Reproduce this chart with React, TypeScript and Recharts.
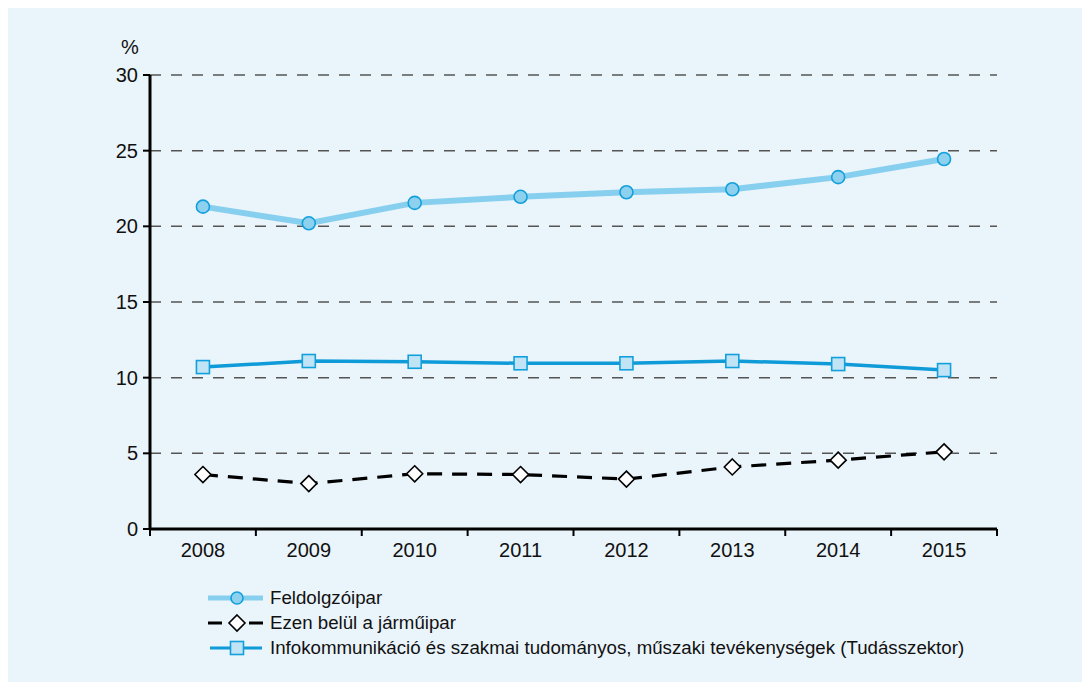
import { LineChart, Line, XAxis, YAxis, CartesianGrid } from 'recharts';

// years on the category axis
const years = [2008, 2009, 2010, 2011, 2012, 2013, 2014, 2015];

// share of employment, %
const feldolgozoipar = [21.3, 20.2, 21.55, 21.95, 22.25, 22.45, 23.25, 24.45];
const jarmuipar = [3.6, 3.0, 3.65, 3.6, 3.3, 4.1, 4.55, 5.1];
const tudasszektor = [10.7, 11.1, 11.05, 10.95, 10.95, 11.1, 10.9, 10.5];

const yTicks = [0, 5, 10, 15, 20, 25, 30];
const gridValues = [5, 10, 15, 20, 25, 30];
const boundaryTicks = [2007.5, 2008.5, 2009.5, 2010.5, 2011.5, 2012.5, 2013.5, 2014.5, 2015.5];

const seriesNames = [
  'Feldolgzóipar',
  'Ezen belül a járműipar',
  'Infokommunikáció és szakmai tudományos, műszaki tevékenységek (Tudásszektor)',
];

const data = years.map((year, i) => ({
  year,
  feldolgozoipar: feldolgozoipar[i],
  jarmuipar: jarmuipar[i],
  tudasszektor: tudasszektor[i],
}));

const BG = '#eaf4fb';
const FONT = '"Liberation Sans", Arial, sans-serif';
const CHART_W = 1082;
const CHART_H = 674;
const MARGIN = { top: 67, right: 93, left: 0, bottom: 123 };
const Y_AXIS_W = 142;
const PLOT_W = CHART_W - MARGIN.left - MARGIN.right - Y_AXIS_W;
const HALF_STEP = PLOT_W / years.length / 2;

const LIGHT = '#87cfee';
const BLUE = '#0f9ad8';
const EDGE = '#12a0dc';

const CircleDot = (props: any) => {
  const { cx, cy, index } = props;
  if (cx == null || cy == null) return null;
  return <circle key={`c-${index}`} cx={cx} cy={cy} r={6.5} fill="#8dd1ef" stroke={EDGE} strokeWidth={1.6} />;
};

const SquareDot = (props: any) => {
  const { cx, cy, index } = props;
  if (cx == null || cy == null) return null;
  return <rect key={`s-${index}`} x={cx - 6.5} y={cy - 6.5} width={13} height={13} fill="#c0e4f6" stroke={EDGE} strokeWidth={1.6} />;
};

const DiamondDot = (props: any) => {
  const { cx, cy, index } = props;
  if (cx == null || cy == null) return null;
  return (
    <polygon
      key={`d-${index}`}
      points={`${cx},${cy - 8} ${cx + 8},${cy} ${cx},${cy + 8} ${cx - 8},${cy}`}
      fill="#ffffff"
      stroke="#000"
      strokeWidth={1.6}
    />
  );
};

const YearTick = (props: any) => {
  const { x, y, payload } = props;
  const label = payload.value + 0.5;
  if (!years.includes(label)) return null;
  return (
    <text x={x + HALF_STEP} y={y} dy="0.71em" textAnchor="middle" fontSize={20} fontFamily={FONT} fill="#111">
      {label}
    </text>
  );
};

const legendIcons = [
  <svg width={60} height={20} key="i0">
    <line x1={0} y1={10} x2={55} y2={10} stroke={LIGHT} strokeWidth={5} />
    <circle cx={29} cy={10} r={6} fill="#8dd1ef" stroke={EDGE} strokeWidth={1.6} />
  </svg>,
  <svg width={60} height={20} key="i1">
    <line x1={0} y1={10} x2={14} y2={10} stroke="#000" strokeWidth={3} />
    <line x1={41} y1={10} x2={55} y2={10} stroke="#000" strokeWidth={3} />
    <polygon points="29,2 37,10 29,18 21,10" fill="#fff" stroke="#000" strokeWidth={1.6} />
  </svg>,
  <svg width={60} height={20} key="i2">
    <line x1={2} y1={10} x2={54} y2={10} stroke={BLUE} strokeWidth={3} />
    <rect x={22.5} y={3.5} width={13} height={13} fill="#c0e4f6" stroke={EDGE} strokeWidth={1.6} />
  </svg>,
];

export default function App() {
  return (
    <div style={{ position: 'relative', width: CHART_W, height: CHART_H, background: BG, fontFamily: FONT }}>
      <LineChart width={CHART_W} height={CHART_H} data={data} margin={MARGIN}>
        <CartesianGrid
          yAxisId="left"
          horizontal
          vertical={false}
          stroke="#555"
          strokeDasharray="11 10"
          strokeWidth={1.5}
          horizontalValues={gridValues}
        />
        <XAxis
          dataKey="year"
          type="number"
          domain={[2007.5, 2015.5]}
          ticks={boundaryTicks}
          interval={0}
          tick={<YearTick />}
          tickSize={7}
          tickMargin={7}
          axisLine={{ stroke: '#000', strokeWidth: 3 }}
          tickLine={{ stroke: '#000', strokeWidth: 2 }}
          height={30}
        />
        <YAxis
          yAxisId="left"
          domain={[0, 30]}
          ticks={yTicks}
          interval={0}
          width={Y_AXIS_W}
          tickSize={7}
          tickMargin={5}
          tick={{ fontSize: 20, fontFamily: FONT, fill: '#111' }}
          axisLine={{ stroke: '#000', strokeWidth: 3 }}
          tickLine={{ stroke: '#000', strokeWidth: 2 }}
        />
        <YAxis
          yAxisId="right"
          orientation="right"
          domain={[0, 30]}
          width={0}
          tick={false}
          tickLine={false}
          axisLine={{ stroke: '#000', strokeWidth: 3 }}
        />
        <Line
          yAxisId="left"
          dataKey="feldolgozoipar"
          stroke={LIGHT}
          strokeWidth={6}
          dot={<CircleDot />}
          activeDot={false}
          isAnimationActive={false}
        />
        <Line
          yAxisId="left"
          dataKey="tudasszektor"
          stroke={BLUE}
          strokeWidth={3.5}
          dot={<SquareDot />}
          activeDot={false}
          isAnimationActive={false}
        />
        <Line
          yAxisId="left"
          dataKey="jarmuipar"
          stroke="#000"
          strokeWidth={3.2}
          strokeDasharray="15 10"
          dot={<DiamondDot />}
          activeDot={false}
          isAnimationActive={false}
        />
      </LineChart>
      <div style={{ position: 'absolute', left: 113, top: 28, fontSize: 20, color: '#111' }}>%</div>
      <div style={{ position: 'absolute', left: 200, top: 577 }}>
        {seriesNames.map((name, i) => (
          <div key={name} style={{ display: 'flex', alignItems: 'center', height: 25, fontSize: 18.7, color: '#111' }}>
            {legendIcons[i]}
            <span style={{ marginLeft: 2 }}>{name}</span>
          </div>
        ))}
      </div>
    </div>
  );
}
